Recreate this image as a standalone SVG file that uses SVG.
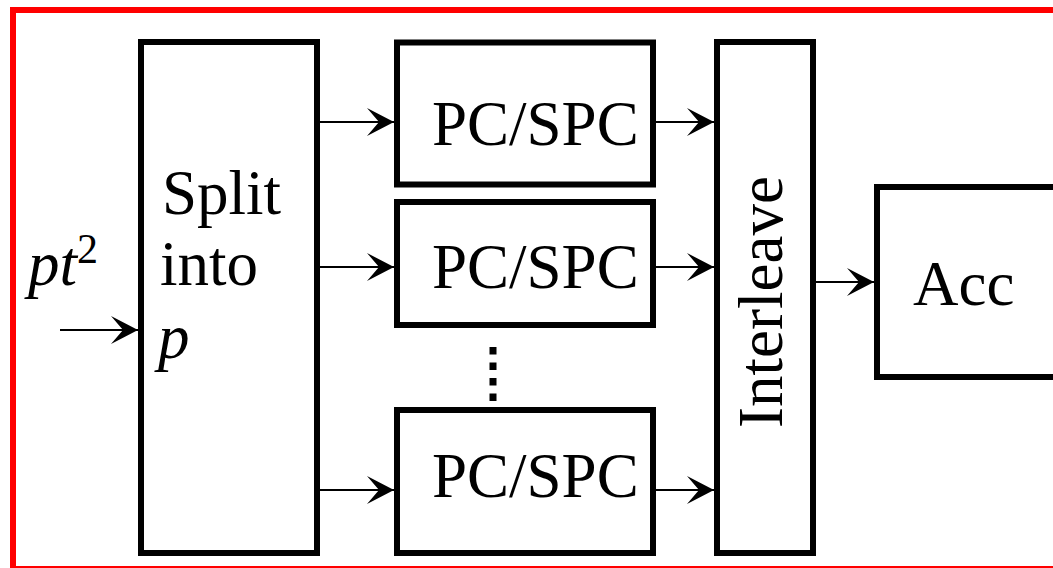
<svg xmlns="http://www.w3.org/2000/svg" width="1053" height="568" viewBox="0 0 1053 568">
<style>
.box{fill:#fff;stroke:#000;stroke-width:6}
.lbl{font-family:"Liberation Serif","Times New Roman",serif;font-size:63px;fill:#000}
.it{font-style:italic}
.wire{stroke:#000;stroke-width:2;fill:none}
</style>
<defs>
<marker id="arr" markerUnits="userSpaceOnUse" markerWidth="32" markerHeight="32" viewBox="-30 -16 32 32" refX="0" refY="0" orient="auto">
<path d="M0,0 L-27,-14 L-15,0 L-27,14 Z" fill="#000"/>
</marker>
</defs>
<rect x="0" y="0" width="1053" height="568" fill="#fff"/>
<rect id="frame" x="13" y="10" width="1100" height="559" fill="none" stroke="#f00" stroke-width="6"/>
<g id="input">
<text class="lbl it" x="28" y="285">pt<tspan font-size="42" font-style="normal" dy="-22">2</tspan></text>
</g>
<g id="split">
<rect class="box" x="141" y="42" width="176" height="511"/>
<text class="lbl" x="162" y="214">Split</text>
<text class="lbl" x="160" y="285">into</text>
<text class="lbl it" x="158" y="358">p</text>
</g>
<g id="pc1">
<rect class="box" x="397" y="42.5" width="256" height="142"/>
<text class="lbl" x="432" y="145">PC/SPC</text>
</g>
<g id="pc2">
<rect class="box" x="397" y="202" width="256" height="123"/>
<text class="lbl" x="432" y="288">PC/SPC</text>
</g>
<g id="pc3">
<rect class="box" x="397" y="410" width="256" height="143"/>
<text class="lbl" x="432" y="497">PC/SPC</text>
</g>
<g id="interleave">
<rect class="box" x="717" y="42" width="96" height="511"/>
<text class="lbl" transform="translate(782,302) rotate(-90)" text-anchor="middle">Interleave</text>
</g>
<g id="acc">
<rect class="box" x="877" y="187" width="180" height="190"/>
<text class="lbl" x="913" y="305">Acc</text>
</g>
<g id="connectors">
<line class="wire" x1="60" y1="330" x2="138" y2="330" marker-end="url(#arr)"/>
<line class="wire" x1="319" y1="122" x2="394" y2="122" marker-end="url(#arr)"/>
<line class="wire" x1="319" y1="267" x2="394" y2="267" marker-end="url(#arr)"/>
<line class="wire" x1="319" y1="490" x2="394" y2="490" marker-end="url(#arr)"/>
<line class="wire" x1="656" y1="122" x2="714" y2="122" marker-end="url(#arr)"/>
<line class="wire" x1="656" y1="267" x2="714" y2="267" marker-end="url(#arr)"/>
<line class="wire" x1="656" y1="490" x2="714" y2="490" marker-end="url(#arr)"/>
<line class="wire" x1="816" y1="282" x2="874" y2="282" marker-end="url(#arr)"/>
<line x1="493" y1="347" x2="493" y2="401" stroke="#000" stroke-width="7" stroke-dasharray="7.5 8"/>
</g>
</svg>
